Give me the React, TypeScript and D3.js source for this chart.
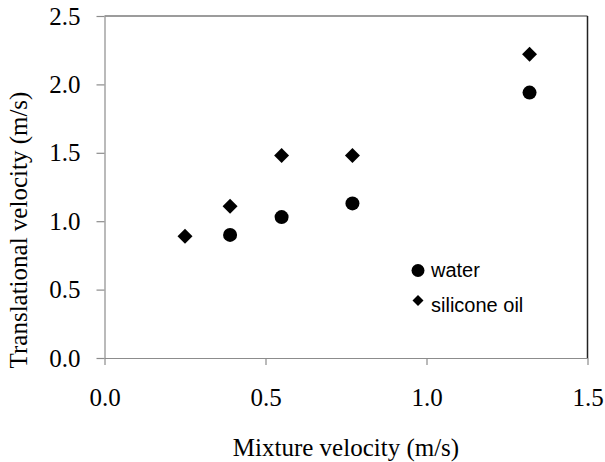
import React, { useEffect, useRef } from 'react';
import * as d3 from 'd3';

// values
const waterX = [0.39, 0.55, 0.77, 1.32];
const waterY = [0.90, 1.03, 1.13, 1.94];
const oilX = [0.25, 0.39, 0.55, 0.77, 1.32];
const oilY = [0.89, 1.11, 1.48, 1.48, 2.22];
const xTicks = [0, 0.5, 1.0, 1.5];
const yTicks = [0, 0.5, 1.0, 1.5, 2.0, 2.5];
const legendLabels = ['water', 'silicone oil'];

const W = 605;
const H = 462;

const App = () => {
  const ref = useRef<SVGSVGElement | null>(null);

  useEffect(() => {
    if (!ref.current) return;
    const svg = d3.select(ref.current);
    svg.selectAll('*').remove();

    const left = 104.5, right = 587.5, top = 16, bottom = 358;
    const x = d3.scaleLinear().domain([0, 1.5]).range([left, right]);
    const y = d3.scaleLinear().domain([0, 2.5]).range([bottom, top]);
    const serif = 'Liberation Serif, Times New Roman, serif';

    // frame: top and right lines darker
    svg.append('line')
      .attr('x1', left).attr('x2', right).attr('y1', top).attr('y2', top)
      .attr('stroke', '#3a3a3a').attr('stroke-width', 1.2);
    svg.append('line')
      .attr('x1', right).attr('x2', right).attr('y1', top).attr('y2', bottom)
      .attr('stroke', '#222').attr('stroke-width', 1.5);

    const xAxis = d3.axisBottom(x)
      .tickValues(xTicks)
      .tickFormat(d3.format('.1f'))
      .tickSizeInner(7)
      .tickSizeOuter(0)
      .tickPadding(25);

    const yAxis = d3.axisLeft(y)
      .tickValues(yTicks)
      .tickFormat(d3.format('.1f'))
      .tickSizeInner(8)
      .tickSizeOuter(0)
      .tickPadding(16);

    const gx = svg.append('g').attr('transform', `translate(0, ${bottom})`).call(xAxis);
    const gy = svg.append('g').attr('transform', `translate(${left}, 0)`).call(yAxis);

    [gx, gy].forEach((g) => {
      g.attr('font-family', serif).attr('font-size', 25);
      g.select('.domain').attr('stroke', '#8c8c8c').attr('stroke-width', 1.2);
      g.selectAll('.tick line').attr('stroke', '#8c8c8c').attr('stroke-width', 1.2);
      g.selectAll('.tick text')
        .attr('fill', '#000')
        .attr('font-family', serif)
        .attr('font-size', 25);
    });
    gx.selectAll('.tick text').attr('dy', '0.62em');

    // axis titles
    svg.append('text')
      .attr('x', (left + right) / 2)
      .attr('y', 456)
      .attr('text-anchor', 'middle')
      .attr('font-family', serif)
      .attr('font-size', 25)
      .text('Mixture velocity (m/s)');

    svg.append('text')
      .attr('transform', 'translate(27, 230) rotate(-90)')
      .attr('text-anchor', 'middle')
      .attr('font-family', serif)
      .attr('font-size', 25)
      .text('Translational velocity (m/s)');

    // points
    const diamond = d3.symbol(d3.symbolSquare, 112);

    svg.append('g')
      .selectAll('circle')
      .data(waterX)
      .join('circle')
      .attr('cx', (d) => x(d))
      .attr('cy', (d, i) => y(waterY[i]))
      .attr('r', 7)
      .attr('fill', '#000');

    svg.append('g')
      .selectAll('path')
      .data(oilX)
      .join('path')
      .attr('d', diamond)
      .attr('transform', (d, i) => `translate(${x(d)}, ${y(oilY[i])}) rotate(45)`)
      .attr('fill', '#000');

    // legend
    const lg = svg.append('g').attr('transform', 'translate(418, 270.5)');
    lg.append('circle').attr('cx', 0).attr('cy', 0).attr('r', 6.5).attr('fill', '#000');
    lg.append('path')
      .attr('d', d3.symbol(d3.symbolSquare, 60)())
      .attr('transform', 'translate(0, 30) rotate(45)')
      .attr('fill', '#000');
    lg.selectAll('text')
      .data(legendLabels)
      .join('text')
      .attr('x', 13)
      .attr('y', (d, i) => 6.5 + i * 35)
      .attr('font-family', 'Liberation Sans, Arial, sans-serif')
      .attr('font-size', 20)
      .attr('fill', '#000')
      .text((d) => d);
  }, []);

  return (
    <svg
      ref={ref}
      width={W}
      height={H}
      style={{ position: 'absolute', left: 0, top: 0, background: '#fff' }}
    />
  );
};

export default App;
